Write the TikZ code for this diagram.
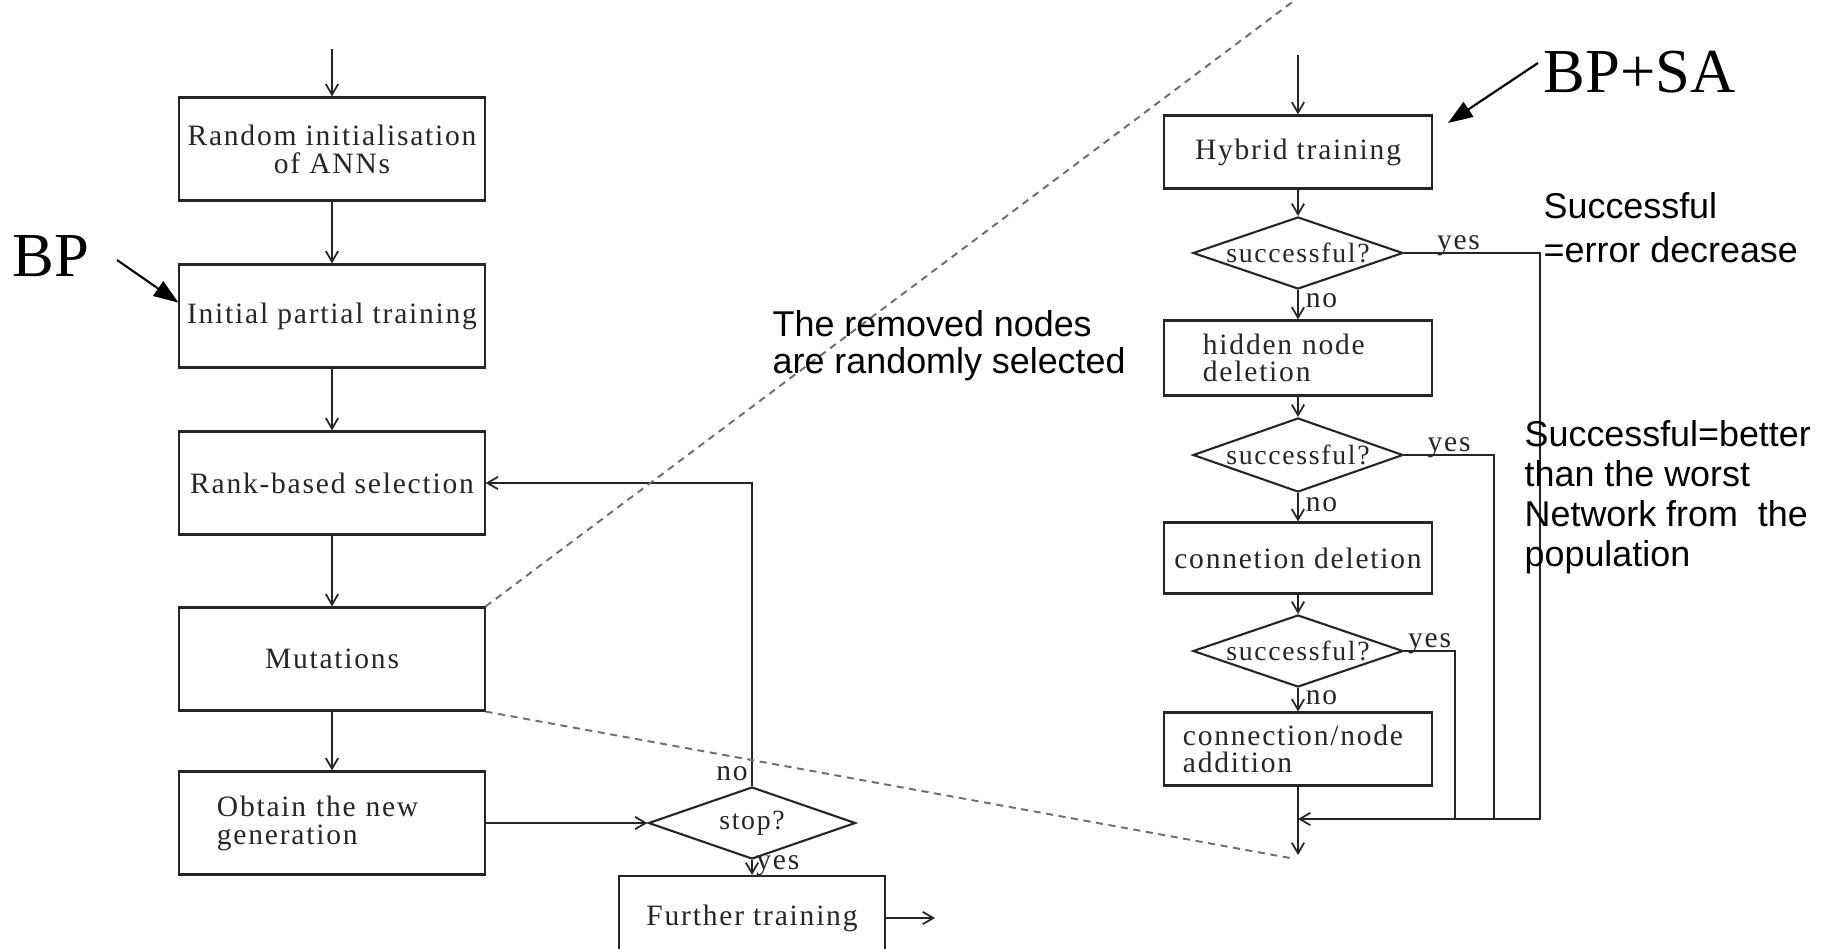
\documentclass[tikz,border=0pt]{standalone}
\usepackage{fontspec}
\setmainfont{Liberation Serif}
\newfontfamily\notefont{Liberation Sans}
\newfontfamily\chartfont[LetterSpace=6.0]{Liberation Serif}
\usepackage{tikz}
\usetikzlibrary{arrows.meta, shapes.geometric, positioning, calc}
\definecolor{chartink}{HTML}{262626}
\definecolor{zoomgray}{HTML}{6E6E6E}

\begin{document}
\begin{tikzpicture}[
  x=0.01cm, y=-0.01cm,
  procbox/.style={rectangle, draw=chartink, line width=0.6pt, minimum width=3.05cm,
                  minimum height=1.03cm, inner sep=0pt, align=center, text=chartink,
                  font=\chartfont\fontsize{8.4}{8}\selectfont},
  subbox/.style={procbox, minimum width=2.67cm, minimum height=0.73cm,
                 font=\chartfont\fontsize{8.4}{7.5}\selectfont},
  decide/.style={diamond, draw=chartink, line width=0.6pt, aspect=2.9, inner sep=0pt,
                 minimum width=2.1cm, minimum height=0.72cm, text=chartink,
                 font=\chartfont\fontsize{7.9}{8}\selectfont},
  lbl/.style={font=\chartfont\fontsize{8.4}{8}\selectfont, text=chartink, inner sep=1pt},
  yeslbl/.style={lbl, above, inner sep=0pt, yshift=-1pt},
  note/.style={align=left, inner sep=0pt, anchor=north west},
  tag/.style={font=\fontsize{17.8}{20}\selectfont, inner sep=0pt, anchor=base west},
  farr/.style={-{Straight Barb[length=3pt,width=3.5pt]}, line width=0.5pt, chartink},
  fline/.style={line width=0.5pt, chartink},
  carr/.style={-{Triangle[length=7pt,width=5pt]}, line width=0.6pt, black},
  zoomln/.style={dash pattern=on 2pt off 1.6pt, line width=0.55pt, zoomgray},
]
\useasboundingbox (0,0) rectangle (1827,948);
\clip (0,0) rectangle (1827,948);

%% -- Left: evolutionary loop ------------------------------------------------
\coordinate (topin) at (332,49);
\node[procbox] (rnd)  at (332,149) {Random initialisation\\of ANNs};
\node[procbox] (ipt)  at (332,316) {Initial partial training};
\node[procbox] (rank) at (332,483) {Rank-based selection};
\node[procbox] (mut)  at (332,659) {Mutations};
\node[procbox, text width=2.3cm, align=left] (obt) at (332,823) {Obtain the new\\generation};

\node[decide, minimum width=2.07cm] (stop) at (752,823) {stop?};
\node[procbox, minimum width=2.66cm, minimum height=0.84cm] (fur) at (752,918) {Further training};
\coordinate (furout) at (935,918);

\draw[farr] (topin) -- (rnd);
\draw[farr] (rnd)   -- (ipt);
\draw[farr] (ipt)   -- (rank);
\draw[farr] (rank)  -- (mut);
\draw[farr] (mut)   -- (obt);
\draw[farr] (obt.east) -- (stop.west);
\draw[farr] (stop.north) |- node[lbl, left, pos=0.02] {no} (rank.east);
\draw[farr] (stop.south) -- node[lbl, right, pos=0.4] {yes} (fur.north);
\draw[farr] (fur.east) -- (furout);

%% -- Right: inside the mutation step -----------------------------------------
\coordinate (hybin) at (1298,55);
\node[subbox] (hyb)  at (1298,152) {Hybrid training};
\node[decide] (dA)   at (1298,253) {successful?};
\node[subbox, minimum height=0.75cm, text width=1.9cm, align=left] (hid) at (1298,358) {hidden node\\deletion};
\node[decide, minimum height=0.74cm] (dB) at (1298,455) {successful?};
\node[subbox, minimum height=0.71cm] (cdel) at (1298,558) {connetion deletion};
\node[decide] (dC)   at (1298,651) {successful?};
\node[subbox, text width=2.3cm, align=left] (cadd) at (1298,749) {connection/node\\addition};

\coordinate (merge) at (1298,819);
\coordinate (outB)  at (1298,855);
\coordinate (loopA) at (1540,819);
\coordinate (loopB) at (1494,819);
\coordinate (loopC) at (1455,819);

\draw[farr] (hybin) -- (hyb);
\draw[farr] (hyb)   -- (dA);
\draw[farr] (dA)    -- node[lbl, right=1pt, pos=0.35] {no} (hid);
\draw[farr] (hid)   -- (dB);
\draw[farr] (dB)    -- node[lbl, right=1pt, pos=0.4] {no} (cdel);
\draw[farr] (cdel)  -- (dC);
\draw[farr] (dC)    -- node[lbl, right=1pt, pos=0.4] {no} (cadd);
\draw[farr] (cadd)  -- (outB);
\draw[farr] (dA.east) -- node[yeslbl, pos=0.4] {yes} (dA.east -| loopA) -- (loopA) -- (merge);
\draw[fline] (dB.east) -- node[yeslbl] {yes} (dB.east -| loopB) -- (loopB);
\draw[fline] (dC.east) -- node[yeslbl] {yes} (dC.east -| loopC) -- (loopC);

%% -- Zoom lines and remarks ---------------------------------------------------
\coordinate (zoomtop) at (1295,0);
\coordinate (zoombot) at (1290,858);
\draw[zoomln] (mut.north east) -- (zoomtop);
\draw[zoomln] (mut.south east) -- (zoombot);

\node[note, font=\notefont\fontsize{10.2}{10.5}\selectfont] (removed) at (772,310)
    {The removed nodes\\are randomly selected};
\node[note, font=\notefont\fontsize{10.2}{12.5}\selectfont] (errnote) at (1543,192)
    {Successful\\=error decrease};
\node[note, font=\notefont\fontsize{10.2}{11.4}\selectfont] (betternote) at (1524,420)
    {Successful=better\\than the worst\\Network from\ \ the\\population};

\node[tag] (bp)   at (12,276)  {BP};
\node[tag] (bpsa) at (1543,92) {BP+SA};
\coordinate (bptail)   at (117,260);
\coordinate (bpsatail) at (1538,63);
\coordinate (bpsahead) at (1448,123);
\draw[carr] (bptail) -- (ipt.175);
\draw[carr] (bpsatail) -- (bpsahead);

\end{tikzpicture}
\end{document}
